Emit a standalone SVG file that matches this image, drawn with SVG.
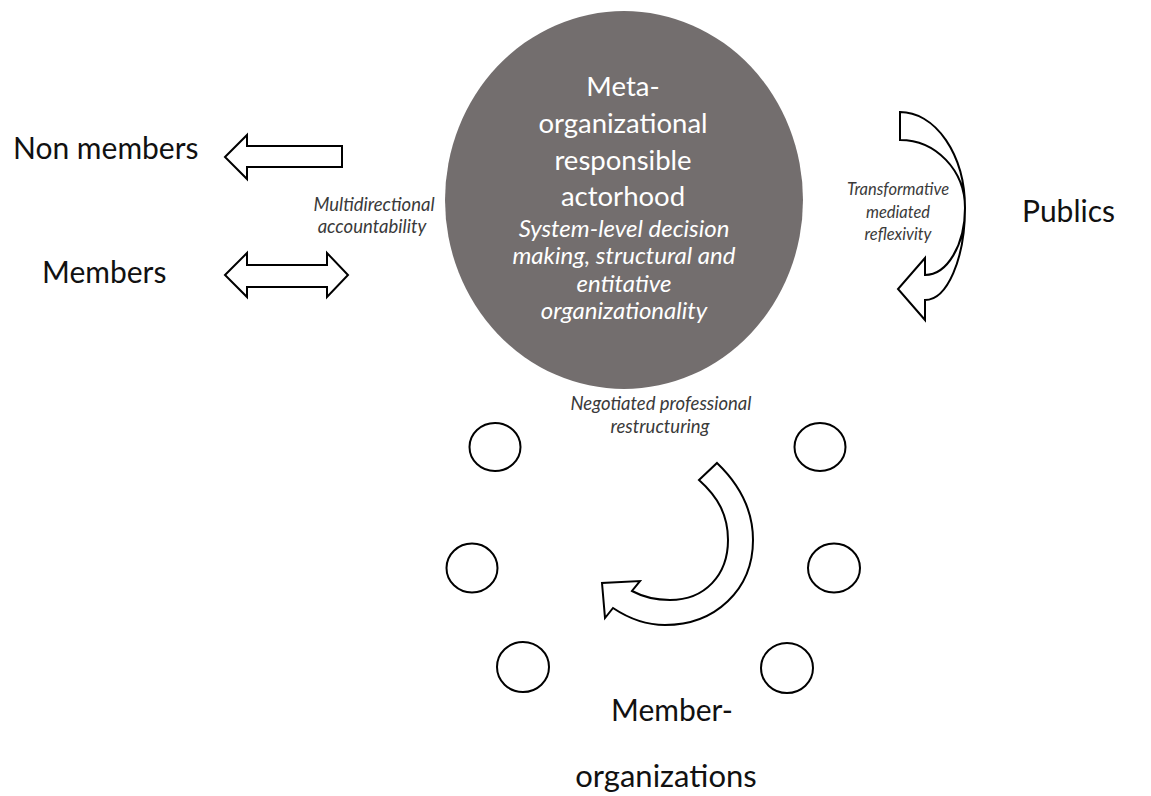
<svg xmlns="http://www.w3.org/2000/svg" width="1151" height="796" viewBox="0 0 1151 796">
<style>
.lbl{font-family:Lato,"Liberation Sans",sans-serif;font-size:30px;fill:#111}
.it{font-family:Lato,"Liberation Sans",sans-serif;font-style:italic;font-size:18.5px;fill:#3a3a3a;text-anchor:middle}
.it2{font-family:Lato,"Liberation Sans",sans-serif;font-style:italic;font-size:16.5px;fill:#3a3a3a;text-anchor:middle}
.ttl{font-family:Lato,"Liberation Sans",sans-serif;font-size:27.5px;fill:#fff;text-anchor:middle}
.sub{font-family:Lato,"Liberation Sans",sans-serif;font-style:italic;font-size:24px;fill:#fff;text-anchor:middle}
.shape{fill:#fff;stroke:#000;stroke-width:2;stroke-linejoin:miter}
.mo{fill:#fff;stroke:#000;stroke-width:2}
</style>
<rect width="1151" height="796" fill="#fff"/>
<g id="core">
<ellipse cx="624" cy="200" rx="179" ry="189" fill="#736e6e"/>
<text class="ttl" x="623" y="96">Meta-</text>
<text class="ttl" x="623" y="133">organizational</text>
<text class="ttl" x="623" y="170">responsible</text>
<text class="ttl" x="623" y="206">actorhood</text>
<text class="sub" x="624" y="237">System-level decision</text>
<text class="sub" x="624" y="264">making, structural and</text>
<text class="sub" x="624" y="292">entitative</text>
<text class="sub" x="624" y="319">organizationality</text>
</g>
<g id="non-members"><text class="lbl" x="13" y="159">Non members</text></g>
<g id="members"><text class="lbl" x="42" y="283">Members</text></g>
<g id="publics"><text class="lbl" x="1022" y="222">Publics</text></g>
<g id="member-organizations">
<text class="lbl" x="672" y="721" text-anchor="middle">Member-</text>
<text class="lbl" x="666" y="787" text-anchor="middle" style="font-size:31px">organizations</text>
<ellipse class="mo" cx="495" cy="447" rx="25.5" ry="24"/>
<ellipse class="mo" cx="472" cy="568" rx="25.5" ry="24.5"/>
<ellipse class="mo" cx="523" cy="667" rx="26" ry="25"/>
<ellipse class="mo" cx="787" cy="668" rx="26" ry="25"/>
<ellipse class="mo" cx="820" cy="447" rx="25.5" ry="24"/>
<ellipse class="mo" cx="834" cy="568" rx="26" ry="24.5"/>
</g>
<g id="connectors">
<path class="shape" d="M225,157 L247,135 L247,146 L342,146 L342,167 L247,167 L247,179 Z"/>
<path class="shape" d="M225,275 L247,253 L247,265 L327,265 L327,253 L348,275 L327,297 L327,287 L247,287 L247,297 Z"/>
<path class="shape" d="M900,112 A65,96 0 0 1 965,208 A65,68 0 0 0 900,140 Z"/>
<path class="shape" d="M965,208 A40,92 0 0 1 925,300 L925,320 L898,289 L925,258 L925,275 A40,67 0 0 0 965,208 Z"/>
<path class="shape" d="M717,463 C740,485 753,510 753,540 C753,590 715,625 665,625 C645,625 628,618 613,608 L605,618 L602,583 L640,581 L632,591 C645,598 658,600 670,600 C705,600 728,575 728,540 C728,515 718,497 699,480 Z"/>
<text class="it" x="374" y="211">Multidirectional</text>
<text class="it" x="372" y="233">accountability</text>
<text class="it2" x="898" y="195">Transformative</text>
<text class="it2" x="898" y="218">mediated</text>
<text class="it2" x="898" y="240">reflexivity</text>
<text class="it" x="661" y="410">Negotiated professional</text>
<text class="it" x="660" y="433">restructuring</text>
</g>
</svg>
